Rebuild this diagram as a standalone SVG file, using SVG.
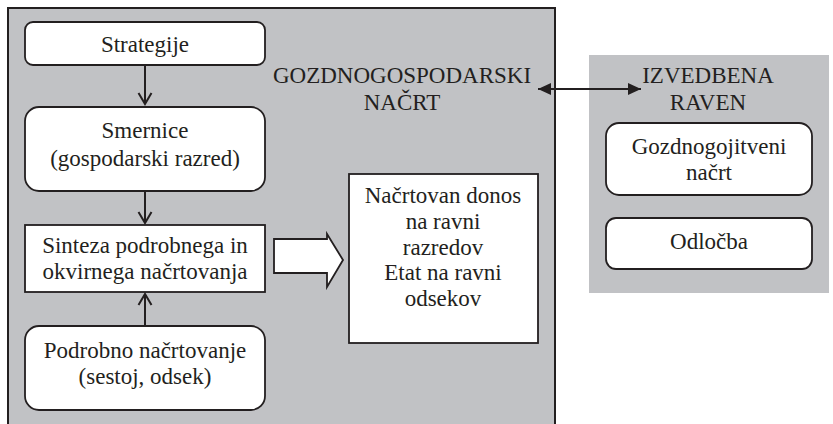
<svg xmlns="http://www.w3.org/2000/svg" width="833" height="424" viewBox="0 0 833 424">
<style>
.panel{fill:#c1c2c5;stroke:#231f20;stroke-width:2}
.panel2{fill:#c1c2c5;stroke:none}
.box{fill:#fff;stroke:#231f20;stroke-width:1.8}
.c{stroke:#231f20;stroke-width:2;fill:none}
.t{font-family:'Liberation Serif','Times New Roman',serif;font-size:23px;fill:#231f20;text-anchor:middle}
</style>
<defs>
<marker id="open" markerWidth="16" markerHeight="16" refX="12" refY="8" orient="auto" markerUnits="userSpaceOnUse">
<path d="M1,1.5 L12,8 L1,14.5" fill="none" stroke="#231f20" stroke-width="2"/>
</marker>
<marker id="solid" markerWidth="14" markerHeight="12" refX="13" refY="6" orient="auto-start-reverse" markerUnits="userSpaceOnUse">
<path d="M0,0 L13,6 L0,12 Z" fill="#231f20"/>
</marker>
</defs>
<rect width="833" height="424" fill="#fff"/>
<g id="panel-main">
<rect class="panel" x="8" y="8" width="547" height="430"/>
<text class="t" x="402" y="83">GOZDNOGOSPODARSKI</text>
<text class="t" x="402" y="110">NAČRT</text>
</g>
<g id="panel-right">
<rect class="panel2" x="589" y="55" width="240" height="238"/>
<text class="t" x="708" y="83">IZVEDBENA</text>
<text class="t" x="708" y="110">RAVEN</text>
</g>
<g id="strategije">
<rect class="box" x="25" y="22" width="240" height="43" rx="8"/>
<text class="t" x="145" y="52">Strategije</text>
</g>
<g id="smernice">
<rect class="box" x="25" y="107" width="240" height="84" rx="14"/>
<text class="t" x="145" y="138">Smernice</text>
<text class="t" x="145" y="166">(gospodarski razred)</text>
</g>
<g id="sinteza">
<rect class="box" x="25" y="225" width="240" height="67"/>
<text class="t" x="145" y="253">Sinteza podrobnega in</text>
<text class="t" x="145" y="279">okvirnega načrtovanja</text>
</g>
<g id="podrobno">
<rect class="box" x="25" y="326" width="240" height="84" rx="14"/>
<text class="t" x="145" y="358">Podrobno načrtovanje</text>
<text class="t" x="145" y="384">(sestoj, odsek)</text>
</g>
<g id="rezultat">
<rect class="box" x="349" y="174" width="189" height="169"/>
<text class="t" x="443" y="203">Načrtovan donos</text>
<text class="t" x="443" y="229">na ravni</text>
<text class="t" x="443" y="255">razredov</text>
<text class="t" x="443" y="280">Etat na ravni</text>
<text class="t" x="443" y="306">odsekov</text>
</g>
<g id="gozdnogojitveni">
<rect class="box" x="606" y="123" width="206" height="72" rx="13"/>
<text class="t" x="709" y="154">Gozdnogojitveni</text>
<text class="t" x="709" y="180">načrt</text>
</g>
<g id="odlocba">
<rect class="box" x="606" y="218" width="206" height="51" rx="10"/>
<text class="t" x="709" y="249">Odločba</text>
</g>
<g id="connectors">
<line class="c" x1="145" y1="65" x2="145" y2="104" marker-end="url(#open)"/>
<line class="c" x1="145" y1="191" x2="145" y2="223" marker-end="url(#open)"/>
<line class="c" x1="145" y1="326" x2="145" y2="294" marker-end="url(#open)"/>
<path d="M274,239 L327,239 L327,234 L343,260 L327,287 L327,273 L274,273 Z" fill="#fff" stroke="#231f20" stroke-width="1.8" stroke-linejoin="miter"/>
<line x1="538" y1="89" x2="641" y2="89" stroke="#231f20" stroke-width="2" marker-start="url(#solid)" marker-end="url(#solid)"/>
</g>
</svg>
